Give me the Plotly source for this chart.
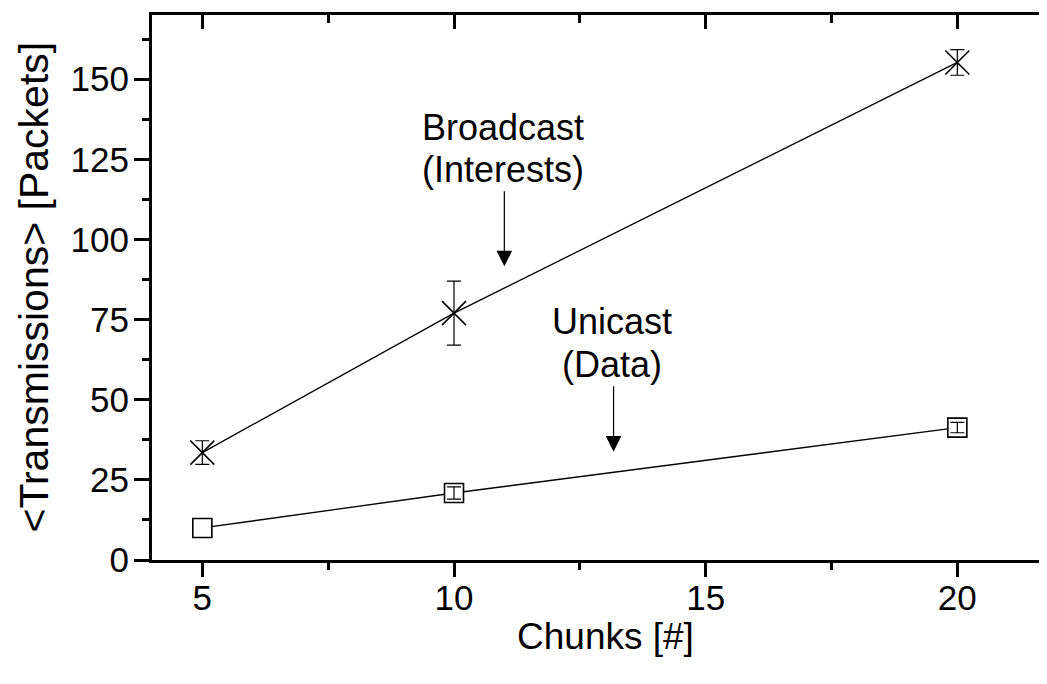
import plotly.graph_objects as go

chunks = [5, 10, 20]
broadcast = [33.5, 77.0, 155.2]
broadcast_err = [3.7, 10.0, 4.0]
unicast = [10.0, 20.9, 41.3]
unicast_err = [None, 1.9, 1.6]

x_range = [4, 22]
y_range = [0, 170]
x_ticks = [5, 10, 15, 20]
y_ticks = [0, 25, 50, 75, 100, 125, 150]

FONT = "Liberation Sans, Arial, sans-serif"
FS = 35

fig = go.Figure()

# Broadcast line + markers
fig.add_trace(go.Scatter(
    x=chunks, y=broadcast, mode="lines+markers",
    line=dict(color="black", width=1.3),
    marker=dict(symbol="x-thin", size=24, color="black",
                line=dict(color="black", width=1.6)),
    showlegend=False, hoverinfo="skip"))
fig.add_trace(go.Scatter(
    x=chunks, y=broadcast, mode="markers",
    marker=dict(size=1, opacity=0),
    error_y=dict(type="data", array=broadcast_err, visible=True,
                 color="black", thickness=1.2, width=7),
    showlegend=False, hoverinfo="skip"))

# Unicast line + markers
fig.add_trace(go.Scatter(
    x=chunks, y=unicast, mode="lines+markers",
    line=dict(color="black", width=1.3),
    marker=dict(symbol="square", size=19, color="white",
                line=dict(color="black", width=1.6)),
    showlegend=False, hoverinfo="skip"))
idx = [i for i, e in enumerate(unicast_err) if e is not None]
fig.add_trace(go.Scatter(
    x=[chunks[i] for i in idx], y=[unicast[i] for i in idx], mode="markers",
    marker=dict(size=1, opacity=0),
    error_y=dict(type="data", array=[unicast_err[i] for i in idx], visible=True,
                 color="black", thickness=1.2, width=7),
    showlegend=False, hoverinfo="skip"))

# dummy trace for secondary axes
fig.add_trace(go.Scatter(x=[None], y=[None], xaxis="x2", yaxis="y2",
                         showlegend=False, hoverinfo="skip"))

fig.update_layout(
    width=1050, height=668,
    margin=dict(l=144, r=0, t=7, b=116),
    paper_bgcolor="white", plot_bgcolor="white",
    font=dict(family=FONT, size=FS, color="black"),
    xaxis=dict(range=x_range, tickvals=x_ticks, showgrid=False, zeroline=False,
               showline=True, linecolor="black", linewidth=3,
               ticks="outside", ticklen=14, tickwidth=2.5, tickcolor="black",
               ticklabelstandoff=-9,
               minor=dict(dtick=2.5, tick0=0, ticks="outside", ticklen=7,
                          tickwidth=2.5, tickcolor="black", showgrid=False),
               tickfont=dict(family=FONT, size=FS), fixedrange=True),
    yaxis=dict(range=y_range, tickvals=y_ticks, showgrid=False, zeroline=False,
               showline=True, linecolor="black", linewidth=3,
               ticks="outside", ticklen=15, tickwidth=2.5, tickcolor="black",
               ticklabelstandoff=-2,
               minor=dict(dtick=12.5, tick0=0, ticks="outside", ticklen=7,
                          tickwidth=2.5, tickcolor="black", showgrid=False),
               tickfont=dict(family=FONT, size=FS), fixedrange=True),
    xaxis2=dict(range=x_range, overlaying="x", side="top", anchor="y",
                tickvals=x_ticks, showticklabels=False, showgrid=False,
                zeroline=False, showline=True, linecolor="black", linewidth=3,
                ticks="inside", ticklen=14, tickwidth=2.5, tickcolor="black",
                minor=dict(dtick=2.5, tick0=0, ticks="inside", ticklen=8,
                           tickwidth=2.5, tickcolor="black", showgrid=False),
                fixedrange=True),
    yaxis2=dict(range=y_range, overlaying="y", side="right", anchor="x",
                tickvals=y_ticks, showticklabels=False, showgrid=False,
                zeroline=False, showline=True, linecolor="black", linewidth=3,
                ticks="inside", ticklen=15, tickwidth=2.5, tickcolor="black",
                minor=dict(dtick=12.5, tick0=0, ticks="inside", ticklen=8,
                           tickwidth=2.5, tickcolor="black", showgrid=False),
                fixedrange=True),
)

# Axis titles
fig.add_annotation(text="Chunks [#]", xref="x", yref="paper",
                   x=(x_range[0] + x_range[1]) / 2, y=-0.141, showarrow=False,
                   xanchor="center", yanchor="middle",
                   font=dict(family=FONT, size=37))
fig.add_annotation(text="&lt;Transmissions&gt; [Packets]", xref="paper", yref="paper",
                   x=0, y=0.5, xshift=-119, showarrow=False, textangle=-90,
                   xanchor="center", yanchor="middle",
                   font=dict(family=FONT, size=41))

# Labels
labels = [("Broadcast", 10.98, 134.9), ("(Interests)", 10.98, 121.8),
          ("Unicast", 13.13, 74.3), ("(Data)", 13.13, 61.0)]
for txt, lx, ly in labels:
    fig.add_annotation(text=txt, x=lx, y=ly, xref="x", yref="y",
                       showarrow=False, xanchor="center", yanchor="middle",
                       font=dict(family=FONT, size=36))

# Arrows
arrows = [(11.0, 91.6, 115.5), (13.17, 33.8, 54.7)]
for ax_, tip, tail in arrows:
    fig.add_annotation(x=ax_, y=tip, ax=ax_, ay=tail, xref="x", yref="y",
                       axref="x", ayref="y", text="", showarrow=True,
                       arrowhead=2, arrowsize=2.6, arrowwidth=1.2,
                       arrowcolor="black")

fig.write_html("out.html")
